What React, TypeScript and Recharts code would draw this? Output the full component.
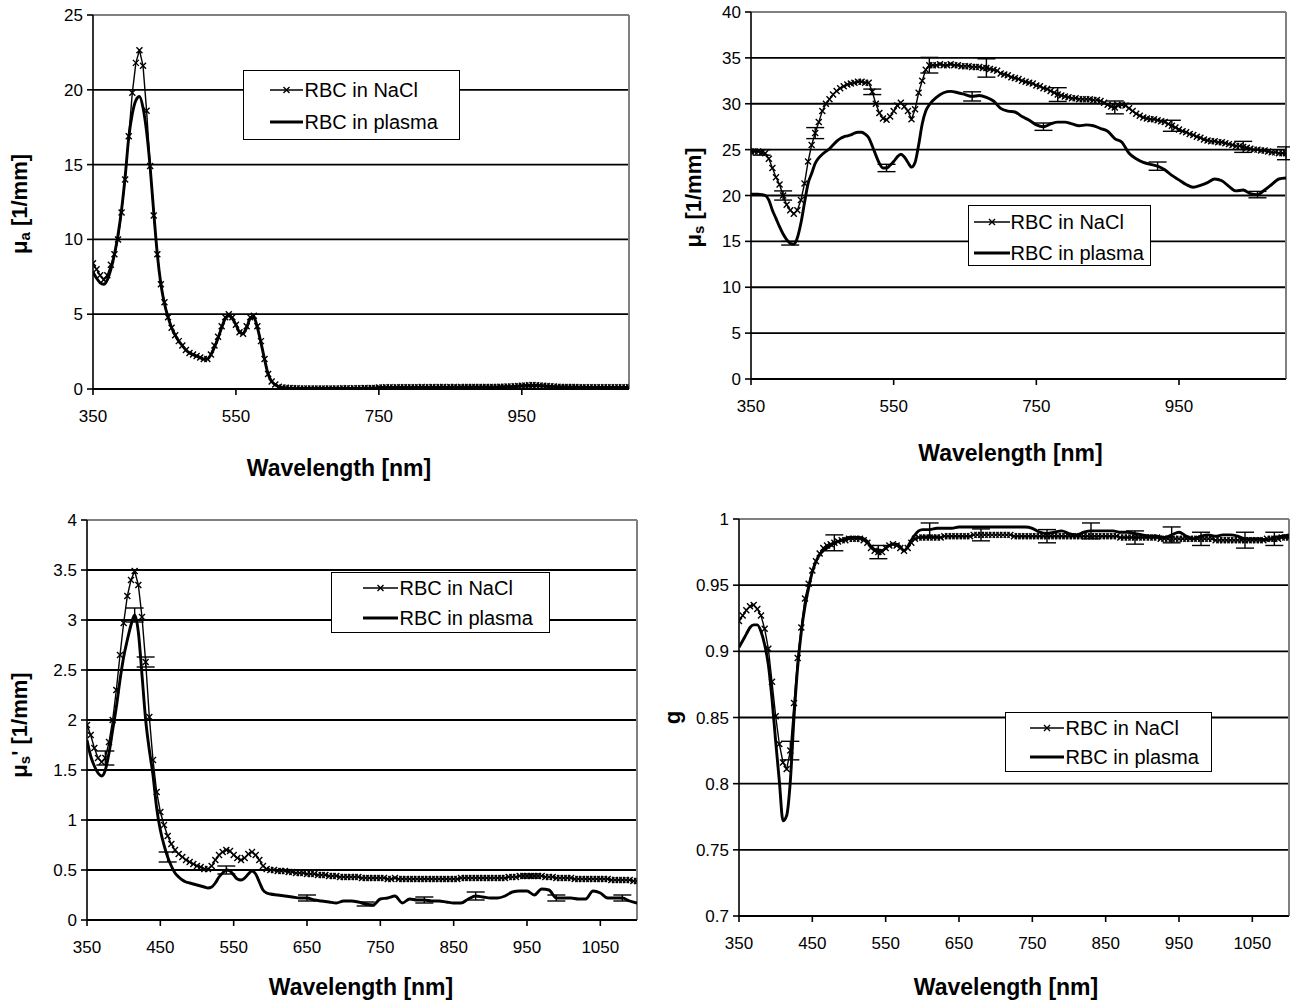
import React from 'react';
import { LineChart, Line, XAxis, YAxis, CartesianGrid, ReferenceLine, ErrorBar } from 'recharts';

const FONT = '"Liberation Sans", Arial, Helvetica, sans-serif';

// ---------- categories ----------
const wavelengthsNaCl: number[] = Array.from({ length: 151 }, (_, i) => 350 + 5 * i);
const wavelengthsPlasma: number[] = [
  ...Array.from({ length: 51 }, (_, i) => 350 + 5 * i),
  ...Array.from({ length: 50 }, (_, i) => 610 + 10 * i),
];

// ---------- tick labels ----------
const xTicksWide = [350, 550, 750, 950];
const xTicksNarrow = [350, 450, 550, 650, 750, 850, 950, 1050];
const muaTicks = [0, 5, 10, 15, 20, 25];
const musTicks = [0, 5, 10, 15, 20, 25, 30, 35, 40];
const musPrimeTicks = [0, 0.5, 1, 1.5, 2, 2.5, 3, 3.5, 4];
const gTicks = [0.7, 0.75, 0.8, 0.85, 0.9, 0.95, 1];

const seriesNames = ['RBC in NaCl', 'RBC in plasma'];

// ---------- mu_a ----------
const muaNaCl = [
  8.4, 8.0, 7.6, 7.3, 7.6, 8.3, 9.0, 10.0, 11.8, 14.0,
  16.9, 19.8, 21.8, 22.65, 21.6, 18.6, 14.9, 11.6, 9.0, 7.0,
  5.8, 4.8, 4.1, 3.6, 3.2, 2.9, 2.6, 2.4, 2.3, 2.2,
  2.1, 2.0, 2.0, 2.3, 2.9, 3.5, 4.2, 4.8, 5.0, 4.8,
  4.3, 3.8, 3.7, 4.2, 4.8, 4.9, 4.2, 3.2, 2.0, 1.0,
  0.5, 0.3, 0.15, 0.1, 0.08, 0.06, 0.05, 0.05, 0.04, 0.04,
  0.04, 0.04, 0.03, 0.03, 0.04, 0.03, 0.03, 0.04, 0.04, 0.04,
  0.05, 0.05, 0.04, 0.05, 0.05, 0.05, 0.06, 0.05, 0.06, 0.06,
  0.1, 0.1, 0.11, 0.11, 0.1, 0.11, 0.12, 0.11, 0.12, 0.12,
  0.12, 0.12, 0.13, 0.12, 0.12, 0.13, 0.12, 0.13, 0.13, 0.12,
  0.13, 0.13, 0.12, 0.13, 0.13, 0.13, 0.14, 0.13, 0.13, 0.14,
  0.14, 0.14, 0.13, 0.14, 0.15, 0.15, 0.16, 0.16, 0.18, 0.2,
  0.22, 0.24, 0.25, 0.26, 0.25, 0.24, 0.22, 0.2, 0.18, 0.16,
  0.15, 0.14, 0.14, 0.13, 0.13, 0.13, 0.12, 0.12, 0.12, 0.12,
  0.12, 0.11, 0.11, 0.12, 0.11, 0.11, 0.11, 0.12, 0.11, 0.11,
  0.11,
];
const muaPlasma = [
  7.8, 7.4, 7.1, 7.0, 7.3, 8.0, 9.0, 10.3, 12.0, 14.2,
  16.8, 18.4, 19.3, 19.55, 18.8, 17.2, 14.8, 11.8, 9.0, 7.0,
  5.7, 4.8, 4.1, 3.6, 3.2, 2.9, 2.6, 2.4, 2.3, 2.2,
  2.1, 2.0, 2.0, 2.3, 2.8, 3.4, 4.1, 4.7, 4.9, 4.7,
  4.3, 3.8, 3.7, 4.1, 4.7, 4.8, 4.1, 3.1, 2.0, 1.0,
  0.5,
  0.15, 0.06, 0.04, 0.03, 0.03, 0.03, 0.03, 0.03, 0.03, 0.04,
  0.04, 0.04, 0.05, 0.05, 0.08, 0.09, 0.09, 0.1, 0.1, 0.1,
  0.1, 0.11, 0.11, 0.11, 0.11, 0.12, 0.12, 0.12, 0.12, 0.12,
  0.12, 0.13, 0.14, 0.16, 0.2, 0.22, 0.23, 0.2, 0.16, 0.14,
  0.13, 0.12, 0.12, 0.11, 0.11, 0.11, 0.11, 0.1, 0.1, 0.1,
];

// ---------- mu_s ----------
const musNaCl = [
  24.8, 24.8, 24.8, 24.7, 24.6, 24.0, 23.0, 22.0, 21.2, 20.0,
  19.0, 18.4, 18.0, 18.4, 19.5, 21.3, 23.7, 25.5, 26.8, 28.0,
  29.2, 30.0, 30.5, 31.0, 31.4, 31.7, 31.9, 32.1, 32.2, 32.3,
  32.4, 32.4, 32.3, 32.3, 31.3, 30.0, 29.0, 28.4, 28.25, 28.6,
  29.2, 29.8, 30.1, 29.7, 29.2, 28.3, 29.4, 31.2, 32.5, 33.7,
  34.2, 34.2, 34.2, 34.3, 34.2, 34.2, 34.3, 34.2, 34.2, 34.1,
  34.1, 34.1, 34.0, 34.0, 34.0, 33.9, 33.9, 33.8, 33.7, 33.6,
  33.3, 33.2, 33.1, 32.9, 32.8, 32.7, 32.5, 32.4, 32.3, 32.2,
  32.0, 31.9, 31.7, 31.6, 31.4, 31.2, 31.0, 30.9, 30.8, 30.7,
  30.6, 30.6, 30.5, 30.5, 30.5, 30.5, 30.4, 30.4, 30.3, 30.1,
  29.9, 29.7, 29.6, 29.8, 29.9, 29.8, 29.5, 29.2, 28.9, 28.7,
  28.5, 28.4, 28.3, 28.3, 28.2, 28.1, 28.0, 27.8, 27.6, 27.4,
  27.2, 27.0, 26.9, 26.7, 26.6, 26.4, 26.3, 26.1, 26.0, 25.9,
  25.9, 25.8, 25.8, 25.7, 25.6, 25.5, 25.4, 25.4, 25.3, 25.2,
  25.1, 25.0, 25.0, 24.9, 24.9, 24.8, 24.7, 24.7, 24.6, 24.6,
  24.6,
];
const musPlasma = [
  20.15, 20.15, 20.15, 20.1, 20.0, 19.5, 18.4, 17.5, 16.6, 15.8,
  15.2, 14.8, 14.7, 15.4, 17.0, 19.2, 21.3, 22.4, 23.5, 24.1,
  24.5, 24.8, 25.1, 25.5, 25.9, 26.2, 26.4, 26.5, 26.6, 26.8,
  26.9, 26.9, 26.7, 26.3, 25.4, 24.4, 23.5, 23.0, 23.0, 23.3,
  23.7, 24.2, 24.5, 24.2, 23.6, 23.1, 23.6, 25.5, 27.8, 29.2,
  29.9,
  30.7, 31.2, 31.35, 31.2, 31.0, 30.8, 30.9, 30.7, 30.3, 29.5,
  29.2, 29.1, 28.6, 28.2, 27.7, 27.5, 27.8, 28.0, 28.0, 27.8,
  27.6, 27.7, 27.6, 27.3, 27.0, 26.2, 25.8, 24.6, 24.0, 23.6,
  23.4, 23.2, 22.8, 22.2, 21.7, 21.2, 20.9, 21.1, 21.4, 21.8,
  21.6, 21.0, 20.5, 20.6, 20.2, 20.1, 20.6, 21.2, 21.8, 21.9,
];
const musNaClErrWl = [365, 395, 440, 520, 600, 680, 780, 860, 940, 1040, 1100];
const musNaClErr = [0.3, 0.5, 0.6, 0.3, 0.85, 1.0, 0.75, 0.7, 0.6, 0.6, 0.7];
const musPlasmaErrWl = [405, 540, 660, 760, 920, 1060];
const musPlasmaErr = [0.2, 0.4, 0.5, 0.4, 0.45, 0.35];

// ---------- mu_s' ----------
const musPrimeNaCl = [
  1.95, 1.85, 1.72, 1.62, 1.58, 1.62, 1.78, 2.0, 2.3, 2.65,
  2.97, 3.24, 3.4, 3.49, 3.35, 3.03, 2.58, 2.03, 1.6, 1.28,
  1.08, 0.95, 0.84, 0.76, 0.7, 0.66, 0.63, 0.6, 0.58, 0.56,
  0.54, 0.53, 0.51, 0.51, 0.54, 0.6, 0.65, 0.68, 0.7, 0.69,
  0.65, 0.62, 0.6, 0.62, 0.66, 0.68, 0.65, 0.6, 0.54, 0.51,
  0.5, 0.5, 0.49, 0.49, 0.49, 0.48, 0.48, 0.47, 0.47, 0.47,
  0.46, 0.46, 0.46, 0.45, 0.45, 0.45, 0.44, 0.44, 0.44, 0.43,
  0.43, 0.43, 0.43, 0.43, 0.43, 0.42, 0.42, 0.42, 0.42, 0.42,
  0.42, 0.42, 0.41, 0.41, 0.42, 0.41, 0.41, 0.41, 0.41, 0.41,
  0.41, 0.41, 0.41, 0.41, 0.41, 0.41, 0.41, 0.41, 0.41, 0.41,
  0.41, 0.41, 0.42, 0.42, 0.42, 0.42, 0.42, 0.42, 0.42, 0.42,
  0.42, 0.42, 0.42, 0.42, 0.42, 0.43, 0.43, 0.43, 0.44, 0.44,
  0.44, 0.44, 0.44, 0.44, 0.44, 0.43, 0.43, 0.43, 0.42, 0.42,
  0.42, 0.42, 0.42, 0.41, 0.41, 0.41, 0.41, 0.41, 0.41, 0.41,
  0.41, 0.41, 0.41, 0.4, 0.4, 0.4, 0.4, 0.4, 0.4, 0.39,
  0.39,
];
const musPrimePlasma = [
  1.8, 1.64, 1.54, 1.47, 1.44, 1.5, 1.67, 1.9, 2.13, 2.4,
  2.63, 2.8, 2.95, 3.05, 2.88, 2.45, 2.0, 1.7, 1.45, 1.12,
  0.9, 0.75, 0.63, 0.54, 0.47, 0.43, 0.4, 0.38, 0.37, 0.36,
  0.35, 0.34, 0.33, 0.32, 0.33, 0.37, 0.43, 0.47, 0.5, 0.49,
  0.45, 0.41, 0.4, 0.42, 0.46, 0.49, 0.46, 0.38, 0.3, 0.27,
  0.26,
  0.25, 0.24, 0.23, 0.22, 0.22, 0.2, 0.19, 0.18, 0.17, 0.19,
  0.19, 0.18, 0.16, 0.15, 0.21, 0.22, 0.24, 0.17, 0.21, 0.2,
  0.2, 0.19, 0.19, 0.18, 0.17, 0.17, 0.21, 0.24, 0.23, 0.22,
  0.22, 0.24, 0.28, 0.29, 0.29, 0.25, 0.31, 0.3, 0.22, 0.22,
  0.22, 0.21, 0.21, 0.29, 0.27, 0.22, 0.22, 0.22, 0.19, 0.17,
];
const musPrimeNaClErrWl = [375, 430, 955];
const musPrimeNaClErr = [0.07, 0.05, 0.02];
const musPrimePlasmaErrWl = [415, 460, 540, 650, 730, 810, 880, 990, 1080];
const musPrimePlasmaErr = [0.07, 0.05, 0.04, 0.03, 0.02, 0.03, 0.04, 0.03, 0.03];

// ---------- g ----------
const gNaCl = [
  0.923, 0.927, 0.931, 0.934, 0.935, 0.932, 0.927, 0.917, 0.902, 0.877,
  0.851, 0.83, 0.816, 0.811, 0.825, 0.861, 0.895, 0.918, 0.94, 0.951,
  0.961, 0.968, 0.974, 0.978, 0.98, 0.981, 0.982, 0.983, 0.984, 0.984,
  0.985, 0.985, 0.985, 0.985, 0.984, 0.982, 0.978, 0.976, 0.975, 0.975,
  0.978, 0.98, 0.981, 0.98, 0.978, 0.976, 0.978, 0.982, 0.985, 0.986,
  0.986, 0.986, 0.986, 0.986, 0.986, 0.986, 0.987, 0.987, 0.987, 0.987,
  0.987, 0.987, 0.987, 0.987, 0.988, 0.988, 0.988, 0.988, 0.988, 0.988,
  0.988, 0.988, 0.988, 0.988, 0.988, 0.987, 0.987, 0.987, 0.987, 0.987,
  0.987, 0.987, 0.987, 0.987, 0.987, 0.987, 0.987, 0.987, 0.987, 0.987,
  0.987, 0.987, 0.987, 0.987, 0.987, 0.987, 0.987, 0.987, 0.987, 0.987,
  0.987, 0.987, 0.987, 0.987, 0.986, 0.986, 0.986, 0.986, 0.986, 0.986,
  0.986, 0.986, 0.986, 0.986, 0.986, 0.985, 0.985, 0.985, 0.985, 0.985,
  0.985, 0.985, 0.985, 0.985, 0.985, 0.985, 0.985, 0.985, 0.985, 0.985,
  0.984, 0.984, 0.984, 0.984, 0.984, 0.984, 0.984, 0.984, 0.984, 0.984,
  0.984, 0.984, 0.984, 0.984, 0.985, 0.985, 0.985, 0.985, 0.986, 0.986,
  0.986,
];
const gPlasma = [
  0.903, 0.908, 0.913, 0.918, 0.92, 0.92, 0.915, 0.905, 0.89, 0.864,
  0.832, 0.802, 0.772, 0.776, 0.802, 0.85, 0.888, 0.915, 0.934, 0.948,
  0.96, 0.968, 0.973, 0.976, 0.978, 0.98, 0.982, 0.983, 0.984, 0.985,
  0.986, 0.986, 0.986, 0.986, 0.985, 0.983, 0.979, 0.977, 0.976, 0.976,
  0.978, 0.98, 0.981, 0.981, 0.979, 0.976, 0.979, 0.984, 0.988, 0.991,
  0.992,
  0.992, 0.993, 0.993, 0.993, 0.994, 0.994, 0.994, 0.994, 0.994, 0.994,
  0.994, 0.994, 0.994, 0.994, 0.993, 0.99, 0.989, 0.99, 0.991, 0.989,
  0.988, 0.99, 0.991, 0.991, 0.991, 0.991, 0.99, 0.99, 0.989, 0.988,
  0.987, 0.987, 0.986, 0.988, 0.99, 0.987, 0.985, 0.987, 0.988, 0.987,
  0.988, 0.988, 0.987, 0.985, 0.985, 0.985, 0.984, 0.986, 0.987, 0.988,
];
const gNaClErrWl = [420, 480, 540, 680, 770, 890, 980, 1040, 1080];
const gNaClErr = [0.007, 0.006, 0.005, 0.0045, 0.005, 0.005, 0.005, 0.006, 0.005];
const gPlasmaErrWl = [610, 830, 940];
const gPlasmaErr = [0.005, 0.006, 0.006];

// ---------- helpers ----------
type Pt = { x: number; y: number; e?: number };
function toSeries(wl: number[], vals: number[], errWl: number[] = [], errs: number[] = []): Pt[] {
  return wl.map((x, i) => {
    const k = errWl.indexOf(x);
    return k >= 0 ? { x, y: vals[i], e: errs[k] } : { x, y: vals[i] };
  });
}

const MARK = 3;
const XMark = (props: any) => {
  const { cx, cy, index } = props;
  if (cx == null || cy == null) return <g key={`m-${index}`} />;
  const s = MARK;
  return (
    <path
      key={`m-${index}`}
      d={`M${cx - s},${cy - s}L${cx + s},${cy + s}M${cx - s},${cy + s}L${cx + s},${cy - s}`}
      stroke="#000"
      strokeWidth={1.4}
      fill="none"
    />
  );
};

type YTitleKind = 'mua' | 'mus' | 'musp' | 'g';
const yTitleLabel = (kind: YTitleKind, relX: number, dy: number) => (props: any) => {
  const vb = props.viewBox || { x: 0, y: 0, width: 0, height: 0 };
  const cx = vb.x + relX;
  const cy = vb.y + vb.height / 2 + dy;
  let inner: React.ReactNode;
  if (kind === 'mua') {
    inner = (<>
      <tspan>μ</tspan><tspan fontSize={15} dy={5}>a</tspan><tspan dy={-5}> [1/mm]</tspan>
    </>);
  } else if (kind === 'mus') {
    inner = (<>
      <tspan>μ</tspan><tspan fontSize={15} dy={5}>s</tspan><tspan dy={-5}> [1/mm]</tspan>
    </>);
  } else if (kind === 'musp') {
    inner = (<>
      <tspan>μ</tspan><tspan fontSize={15} dy={5}>s</tspan><tspan dy={-5}>' [1/mm]</tspan>
    </>);
  } else {
    inner = <tspan>g</tspan>;
  }
  return (
    <text
      x={cx}
      y={cy}
      transform={`rotate(-90 ${cx} ${cy})`}
      textAnchor="middle"
      dominantBaseline="central"
      fontFamily={FONT}
      fontWeight="bold"
      fontSize={22}
      fill="#000"
    >
      {inner}
    </text>
  );
};

const xTitleLabel = (dx: number, dy: number) => (props: any) => {
  const vb = props.viewBox || { x: 0, y: 0, width: 0, height: 0 };
  return (
    <text
      x={vb.x + vb.width / 2 + dx}
      y={vb.y + dy}
      textAnchor="middle"
      dominantBaseline="central"
      fontFamily={FONT}
      fontWeight="bold"
      fontSize={23}
      fill="#000"
    >
      Wavelength [nm]
    </text>
  );
};

type LegendCfg = { left: number; top: number; width: number; height: number; row1: number; row2: number; iconL: number; iconR: number; textL: number };

function LegendBox({ left, top, width, height, row1, row2, iconL, iconR, textL }: LegendCfg) {
  const mid = (iconL + iconR) / 2;
  const s = MARK;
  return (
    <div
      style={{
        position: 'absolute', left, top, width, height, boxSizing: 'border-box',
        border: '1.5px solid #000', background: '#fff', fontFamily: FONT, fontSize: 20, color: '#000', zIndex: 2,
      }}
    >
      <svg width={width} height={height} style={{ position: 'absolute', left: -1.5, top: -1.5 }}>
        <line x1={iconL} x2={iconR} y1={row1} y2={row1} stroke="#000" strokeWidth={1.4} />
        <path d={`M${mid - s},${row1 - s}L${mid + s},${row1 + s}M${mid - s},${row1 + s}L${mid + s},${row1 - s}`} stroke="#000" strokeWidth={1.4} />
        <line x1={iconL} x2={iconR} y1={row2} y2={row2} stroke="#000" strokeWidth={2.8} />
      </svg>
      <div style={{ position: 'absolute', left: textL - 1.5, top: row1 - 1.5, transform: 'translateY(-50%)', lineHeight: 1, whiteSpace: 'nowrap' }}>{seriesNames[0]}</div>
      <div style={{ position: 'absolute', left: textL - 1.5, top: row2 - 1.5, transform: 'translateY(-50%)', lineHeight: 1, whiteSpace: 'nowrap' }}>{seriesNames[1]}</div>
    </div>
  );
}

type PanelProps = {
  left: number; top: number; width: number; height: number;
  mTop: number; mRight: number; yWidth: number; xHeight: number;
  xTicks: number[]; yTicks: number[];
  nacl: Pt[]; plasma: Pt[];
  yKind: YTitleKind; yTitleX: number; yTitleDy: number;
  xTitleDx: number; xTitleDy: number;
  legend: LegendCfg;
};

const tickStyle = { fontSize: 17, fill: '#000', fontFamily: FONT };

function Panel(p: PanelProps) {
  const yMin = p.yTicks[0];
  const yMax = p.yTicks[p.yTicks.length - 1];
  return (
    <div style={{ position: 'absolute', left: p.left, top: p.top, width: p.width, height: p.height }}>
      <LineChart width={p.width} height={p.height} margin={{ top: p.mTop, right: p.mRight, left: 0, bottom: 0 }}>
        <CartesianGrid vertical={false} stroke="#000" strokeWidth={1.8} />
        <XAxis
          dataKey="x" type="number" domain={[350, 1100]} ticks={p.xTicks} interval={0} allowDataOverflow
          height={p.xHeight}
          axisLine={{ stroke: '#000', strokeWidth: 1.6 }}
          tickLine={{ stroke: '#000', strokeWidth: 1.6 }}
          tickSize={6} tickMargin={15} tick={tickStyle}
          label={xTitleLabel(p.xTitleDx, p.xTitleDy)}
        />
        <YAxis
          type="number" domain={[yMin, yMax]} ticks={p.yTicks} interval={0} allowDataOverflow
          width={p.yWidth}
          axisLine={{ stroke: '#000', strokeWidth: 1.6 }}
          tickLine={{ stroke: '#000', strokeWidth: 1.6 }}
          tickSize={6} tickMargin={4} tick={tickStyle}
          label={yTitleLabel(p.yKind, p.yTitleX, p.yTitleDy)}
        />
        <ReferenceLine y={yMax} stroke="#808080" strokeWidth={2} />
        <ReferenceLine x={1100} stroke="#808080" strokeWidth={2} />
        <Line
          data={p.plasma} dataKey="y" name={seriesNames[1]} type="monotone" stroke="#000" strokeWidth={2.9}
          dot={false} activeDot={false} isAnimationActive={false}
        >
          <ErrorBar dataKey="e" direction="y" width={9} stroke="#000" strokeWidth={1.4} />
        </Line>
        <Line
          data={p.nacl} dataKey="y" name={seriesNames[0]} type="linear" stroke="#000" strokeWidth={1.4}
          dot={XMark} activeDot={false} isAnimationActive={false}
        >
          <ErrorBar dataKey="e" direction="y" width={9} stroke="#000" strokeWidth={1.4} />
        </Line>
      </LineChart>
      <LegendBox {...p.legend} />
    </div>
  );
}

export default function App() {
  return (
    <div style={{ position: 'absolute', left: 0, top: 0, width: 1290, height: 1003, background: '#fff', overflow: 'hidden' }}>
      <Panel
        left={0} top={0} width={645} height={495}
        mTop={15} mRight={16} yWidth={93} xHeight={106}
        xTicks={xTicksWide} yTicks={muaTicks}
        nacl={toSeries(wavelengthsNaCl, muaNaCl)}
        plasma={toSeries(wavelengthsPlasma, muaPlasma)}
        yKind="mua" yTitleX={19} yTitleDy={2}
        xTitleDx={-22} xTitleDy={79}
        legend={{ left: 243, top: 70, width: 217, height: 70, row1: 20, row2: 52, iconL: 27, iconR: 60, textL: 62 }}
      />
      <Panel
        left={650} top={0} width={640} height={495}
        mTop={12} mRight={4} yWidth={101} xHeight={116}
        xTicks={xTicksWide} yTicks={musTicks}
        nacl={toSeries(wavelengthsNaCl, musNaCl, musNaClErrWl, musNaClErr)}
        plasma={toSeries(wavelengthsPlasma, musPlasma, musPlasmaErrWl, musPlasmaErr)}
        yKind="mus" yTitleX={43} yTitleDy={2}
        xTitleDx={-8} xTitleDy={74}
        legend={{ left: 318, top: 205, width: 183, height: 61, row1: 17, row2: 48, iconL: 6, iconR: 42, textL: 43 }}
      />
      <Panel
        left={0} top={500} width={645} height={503}
        mTop={20} mRight={8} yWidth={87} xHeight={83}
        xTicks={xTicksNarrow} yTicks={musPrimeTicks}
        nacl={toSeries(wavelengthsNaCl, musPrimeNaCl, musPrimeNaClErrWl, musPrimeNaClErr)}
        plasma={toSeries(wavelengthsPlasma, musPrimePlasma, musPrimePlasmaErrWl, musPrimePlasmaErr)}
        yKind="musp" yTitleX={19} yTitleDy={5}
        xTitleDx={-1} xTitleDy={67}
        legend={{ left: 331, top: 72, width: 219, height: 61, row1: 16, row2: 46, iconL: 32, iconR: 67, textL: 69 }}
      />
      <Panel
        left={650} top={500} width={640} height={503}
        mTop={19} mRight={1} yWidth={89} xHeight={87}
        xTicks={xTicksNarrow} yTicks={gTicks}
        nacl={toSeries(wavelengthsNaCl, gNaCl, gNaClErrWl, gNaClErr)}
        plasma={toSeries(wavelengthsPlasma, gPlasma, gPlasmaErrWl, gPlasmaErr)}
        yKind="g" yTitleX={22} yTitleDy={0}
        xTitleDx={-8} xTitleDy={71}
        legend={{ left: 355, top: 212, width: 207, height: 60, row1: 16, row2: 45, iconL: 25, iconR: 59, textL: 61 }}
      />
    </div>
  );
}
